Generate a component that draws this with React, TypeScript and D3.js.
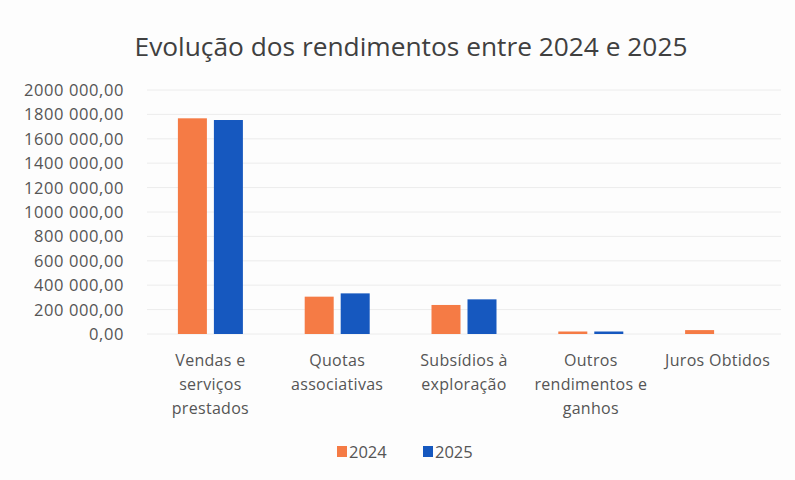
import React from "react";
import * as d3 from "d3";

const categories = [
  ["Vendas e", "serviços", "prestados"],
  ["Quotas", "associativas"],
  ["Subsídios à", "exploração"],
  ["Outros", "rendimentos e", "ganhos"],
  ["Juros Obtidos"],
];
const series2024 = [1768000, 306000, 238000, 18000, 32000];
const series2025 = [1754000, 333000, 284000, 15000, 0];
const seriesNames = ["2024", "2025"];
const yTicks = [0, 200000, 400000, 600000, 800000, 1000000, 1200000, 1400000, 1600000, 1800000, 2000000];
const yTickLabels = [
  "0,00", "200 000,00", "400 000,00", "600 000,00", "800 000,00", "1000 000,00",
  "1200 000,00", "1400 000,00", "1600 000,00", "1800 000,00", "2000 000,00",
];
const title = "Evolução dos rendimentos entre 2024 e 2025";

const colors = ["#F57B45", "#1658BF"];
const font = "'Open Sans', sans-serif";

export default function App() {
  const W = 795, H = 480;
  const left = 147, right = 781, top = 90, bottom = 334;
  const x = d3.scaleBand<number>().domain(d3.range(categories.length)).range([left, right]);
  const y = d3.scaleLinear().domain([0, 2000000]).range([bottom, top]);
  const barW = 29, gap = 7;
  const data = [series2024, series2025];
  return (
    <svg width={W} height={H} style={{ position: "absolute", left: 0, top: 0, background: "#fff" }}>
      <rect x={0} y={0} width={W} height={H} fill="#fdfdfd" />
      <text x={411} y={56} textAnchor="middle" fontFamily={font} fontSize={26.3} fill="#404040">{title}</text>
      {yTicks.map((t, i) => (
        <g key={i}>
          <line x1={left} x2={right} y1={y(t)} y2={y(t)} stroke="#ececec" strokeWidth={1} />
          <text x={124} y={y(t) + 6} textAnchor="end" fontFamily={font} fontSize={16.5} letterSpacing={0.6} fill="#555">{yTickLabels[i]}</text>
        </g>
      ))}
      {categories.map((c, i) => {
        const cx = (x(i) as number) + x.bandwidth() / 2;
        return (
          <g key={i}>
            {data.map((s, j) => {
              const bx = cx - gap / 2 - barW + j * (barW + gap);
              const v = s[i];
              if (v <= 0) return null;
              const h = Math.max(bottom - y(v), 2.5);
              return <rect key={j} x={bx} y={bottom - h} width={barW} height={h} fill={colors[j]} />;
            })}
            {c.map((line, k) => (
              <text key={k} x={cx} y={366 + k * 24} textAnchor="middle" fontFamily={font} fontSize={16} letterSpacing={0.3} fill="#555">{line}</text>
            ))}
          </g>
        );
      })}
      {seriesNames.map((n, j) => {
        const lx = 337 + j * 86;
        return (
          <g key={j}>
            <rect x={lx} y={446} width={10} height={11} fill={colors[j]} />
            <text x={lx + 12} y={458} fontFamily={font} fontSize={16.5} fill="#555">{n}</text>
          </g>
        );
      })}
    </svg>
  );
}
